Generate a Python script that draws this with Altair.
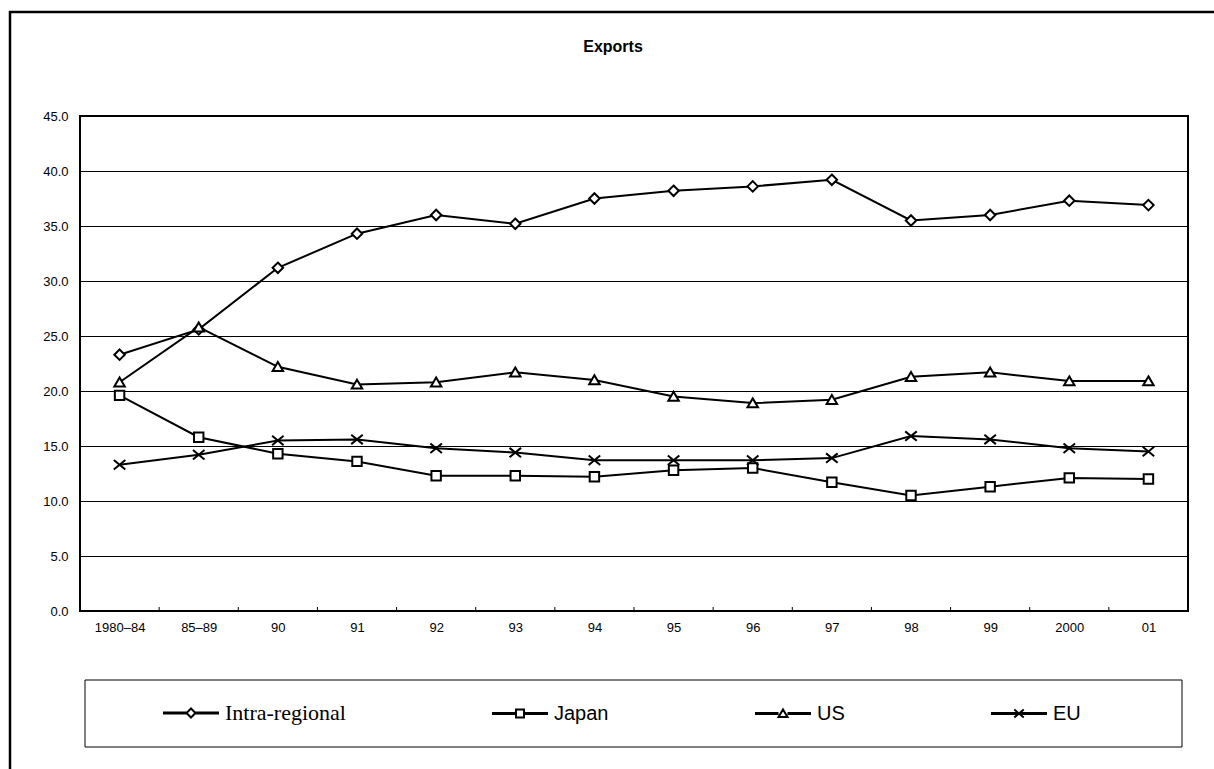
import altair as alt
import pandas as pd

categories = ["1980–84", "85–89", "90", "91", "92", "93", "94", "95", "96", "97", "98", "99", "2000", "01"]
series_names = ["Intra-regional", "Japan", "US", "EU"]
intra = [23.3, 25.6, 31.2, 34.3, 36.0, 35.2, 37.5, 38.2, 38.6, 39.2, 35.5, 36.0, 37.3, 36.9]
japan = [19.6, 15.8, 14.3, 13.6, 12.3, 12.3, 12.2, 12.8, 13.0, 11.7, 10.5, 11.3, 12.1, 12.0]
us = [20.8, 25.8, 22.2, 20.6, 20.8, 21.7, 21.0, 19.5, 18.9, 19.2, 21.3, 21.7, 20.9, 20.9]
eu = [13.3, 14.2, 15.5, 15.6, 14.8, 14.4, 13.7, 13.7, 13.7, 13.9, 15.9, 15.6, 14.8, 14.5]
y_ticks = [0, 5, 10, 15, 20, 25, 30, 35, 40, 45]
title_text = "Exports"

rows = []
for name, vals in zip(series_names, [intra, japan, us, eu]):
    for c, v in zip(categories, vals):
        rows.append({"period": c, "series": name, "value": v})
df = pd.DataFrame(rows)
tick_df = pd.DataFrame({"period": categories[:-1]})

FONT = "Liberation Sans"

# marker shapes (unit square -1..1)
point_shapes = [
    "M0,-1L1,0L0,1L-1,0Z",
    "M-0.9,-0.9H0.9V0.9H-0.9Z",
    "M0,-0.9L1,0.8H-1Z",
    "M-1.1,-0.9L1.1,0.9M-1.1,0.9L1.1,-0.9",
]
# legend symbols: a (doubled) line segment with the marker in its middle (units of 5px)
_seg = "M-5.6,-0.1H-0.9M0.9,-0.1H5.6M-5.6,0.1H-0.9M0.9,0.1H5.6"
legend_shapes = [
    _seg + "M0,-0.9L0.9,0L0,0.9L-0.9,0Z",
    _seg + "M-0.8,-0.8H0.8V0.8H-0.8Z",
    _seg + "M0,-0.8L0.9,0.7H-0.9Z",
    "M-5.6,-0.1H5.6M-5.6,0.1H5.6M-0.95,-0.8L0.95,0.8M-0.95,0.8L0.95,-0.8",
]

W, H = 1108, 495
STEP = W / len(categories)
frame_df = pd.DataFrame({"k": [0], "t": [title_text]})

frame = alt.Chart(frame_df).mark_rect(filled=False, stroke="black", strokeWidth=2.5).encode(
    x=alt.value(-70), x2=alt.value(1200), y=alt.value(-104), y2=alt.value(720)
)
legend_box = alt.Chart(frame_df).mark_rect(filled=False, stroke="black", strokeWidth=1).encode(
    x=alt.value(5), x2=alt.value(1102), y=alt.value(564), y2=alt.value(631)
)
title = alt.Chart(frame_df).mark_text(
    font=FONT, fontSize=16, fontWeight="bold", color="black", align="center", baseline="middle"
).encode(text="t:N", x=alt.value(533), y=alt.value(-69))

x_enc = alt.X(
    "period:O",
    sort=categories,
    title=None,
    scale=alt.Scale(type="point", padding=0.5),
    axis=alt.Axis(labelAngle=0, labelFont=FONT, labelFontSize=13, labelColor="black",
                  labelAlign="center", ticks=False, domain=False, labelPadding=10, grid=False),
)
y_enc = alt.Y(
    "value:Q",
    title=None,
    scale=alt.Scale(domain=[0, 45], nice=False),
    axis=alt.Axis(values=y_ticks, format=".1f", labelFont=FONT, labelFontSize=13, labelColor="black",
                  ticks=False, domain=False, labelPadding=12, grid=True, gridColor="black",
                  gridWidth=1, gridOpacity=1),
)

# small inward category ticks between periods
xticks = alt.Chart(tick_df).mark_rule(color="black", strokeWidth=1, xOffset=STEP / 2).encode(
    x=x_enc, y=alt.value(H - 4), y2=alt.value(H)
)

lines = alt.Chart(df).mark_line(color="black", strokeWidth=2).encode(
    x=x_enc, y=y_enc, detail="series:N"
)
points = alt.Chart(df).mark_point(filled=False, fill="white", stroke="black", strokeWidth=2,
                                  size=110, opacity=1).encode(
    x=x_enc, y=y_enc,
    shape=alt.Shape("series:N", scale=alt.Scale(domain=series_names, range=point_shapes), legend=None),
)
legend_layer = alt.Chart(df).transform_filter("false").mark_point(
    filled=False, fill="white", stroke="black", strokeWidth=2, size=100, opacity=1
).encode(
    shape=alt.Shape(
        "series:N",
        scale=alt.Scale(domain=series_names, range=legend_shapes),
        legend=alt.Legend(
            title=None, orient="none", legendX=101, legendY=587, direction="horizontal",
            columns=4, columnPadding=142, padding=0, labelOffset=24,
            symbolStrokeWidth=2,
            labelFont={"expr": "datum.label == 'Intra-regional' ? 'Liberation Serif' : 'Liberation Sans'"},
            labelFontSize={"expr": "datum.label == 'Intra-regional' ? 22 : 20"},
            labelColor="black", labelLimit=400,
        ),
    )
)

chart = alt.layer(frame, legend_box, title, xticks, lines, points, legend_layer).resolve_scale(
    shape="independent"
).properties(
    width=W, height=H,
    autosize=alt.AutoSizeParams(type="none"),
    padding={"left": 80, "top": 116, "right": 26, "bottom": 158},
    background="white",
).configure_view(stroke="black", strokeWidth=2)

chart.save("out.html", embed_options={"renderer": "svg", "actions": False})
